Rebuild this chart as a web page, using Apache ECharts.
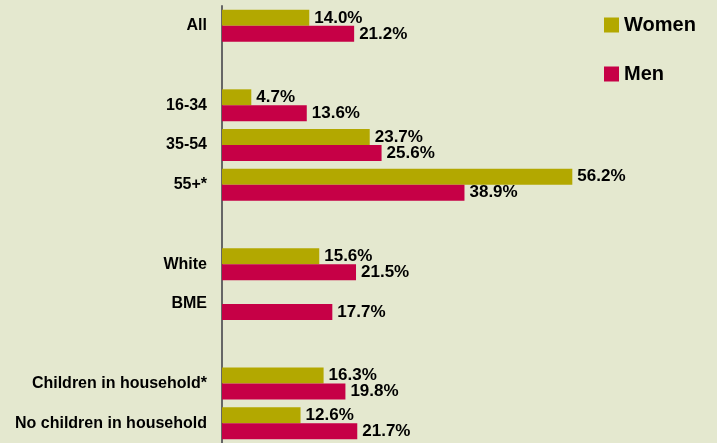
<!DOCTYPE html>
<html>
<head>
<meta charset="utf-8">
<script src="https://cdn.jsdelivr.net/npm/echarts@6/dist/echarts.min.js"></script>
<style>
  html, body { margin: 0; padding: 0; background: #e4e8cf; }
  #chart { width: 717px; height: 443px; }
</style>
</head>
<body>
<div id="chart"></div>
<script>
// blank rows are spacer rows between the groups
const categories = ['All', ' ', '16-34', '35-54', '55+*', '  ', 'White', 'BME', '   ',
  'Children in household*', 'No children in household'];
const women = [14.0, null, 4.7, 23.7, 56.2, null, 15.6, null, null, 16.3, 12.6];
const men = [21.2, null, 13.6, 25.6, 38.9, null, 21.5, 17.7, null, 19.8, 21.7];

const font = '"Liberation Sans", Arial, sans-serif';

function valueLabel() {
  return {
    show: true,
    position: 'right',
    distance: 5,
    color: '#000',
    fontFamily: font,
    fontWeight: 'bold',
    fontSize: 17,
    formatter: p => p.value == null ? '' : p.value.toFixed(1) + '%'
  };
}

let myChart = echarts.init(document.getElementById('chart'), null, {renderer: 'canvas'});
myChart.setOption({
  backgroundColor: '#e4e8cf',
  animation: false,
  legend: {
    orient: 'vertical',
    left: 599,
    top: 10,
    itemWidth: 15,
    itemHeight: 15,
    itemGap: 29,
    icon: 'rect',
    textStyle: {
      color: '#000',
      fontFamily: font,
      fontWeight: 'bold',
      fontSize: 20,
      lineHeight: 19
    },
    data: ['Women', 'Men']
  },
  grid: {left: 222, right: 121, top: 6, height: 440},
  xAxis: {
    type: 'value',
    min: 0,
    max: 60,
    show: false
  },
  yAxis: {
    type: 'category',
    inverse: true,
    data: categories,
    axisLine: {show: true, lineStyle: {color: '#666', width: 2}},
    axisTick: {show: false},
    axisLabel: {
      margin: 15,
      color: '#000',
      fontFamily: font,
      fontWeight: 'bold',
      fontSize: 16
    }
  },
  series: [
    {
      name: 'Women',
      type: 'bar',
      data: women,
      barWidth: 16,
      barGap: '0%',
      itemStyle: {color: '#b3a800'},
      label: valueLabel()
    },
    {
      name: 'Men',
      type: 'bar',
      data: men,
      barWidth: 16,
      barGap: '0%',
      itemStyle: {color: '#c60046'},
      label: valueLabel()
    }
  ]
});
window.onresize = function() {
  myChart.resize();
};
</script>
</body>
</html>
